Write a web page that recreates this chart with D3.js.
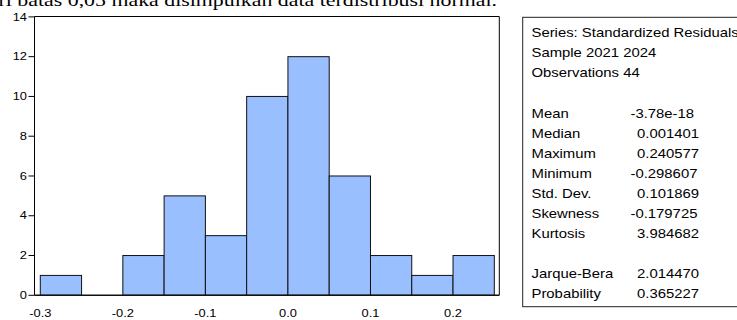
<!DOCTYPE html>
<html>
<head>
<meta charset="utf-8">
<script src="https://cdn.jsdelivr.net/npm/d3@7"></script>
<style>
  html, body { margin: 0; padding: 0; background: #fff; }
  svg { display: block; }
</style>
</head>
<body>
<svg id="chart" width="737" height="320"></svg>
<script>
// ---- data ----
const binStarts = [-0.30, -0.25, -0.20, -0.15, -0.10, -0.05, 0.00, 0.05, 0.10, 0.15, 0.20];
const binWidth = 0.05;
const counts = [1, 0, 2, 5, 3, 10, 12, 6, 2, 1, 2];
const yTicks = [0, 2, 4, 6, 8, 10, 12, 14];
const xTicks = [-0.3, -0.2, -0.1, 0.0, 0.1, 0.2];
const xTickLabels = ["-0.3", "-0.2", "-0.1", "0.0", "0.1", "0.2"];
const headerLines = ["Series: Standardized Residuals", "Sample 2021 2024", "Observations 44"];
const statLabels = ["Mean", "Median", "Maximum", "Minimum", "Std. Dev.", "Skewness", "Kurtosis"];
const statValues = ["-3.78e-18", "0.001401", "0.240577", "-0.298607", "0.101869", "-0.179725", "3.984682"];
const testLabels = ["Jarque-Bera", "Probability"];
const testValues = ["2.014470", "0.365227"];
const captionText = "dari batas 0,05 maka disimpulkan data terdistribusi normal.";

// ---- layout ----
const SX = 1.25;
const svg = d3.select("#chart");
const axisLeft = 34.5, frameRight = 499.3, frameTop = 16.5;
const x = d3.scaleLinear().domain([-0.3, 0.25]).range([40.3, 494.3]);
const y = d3.scaleLinear().domain([0, 14]).range([295.3, 16.9]);

function sText(g, px, py, str, opts) {
  return g.append("text")
    .attr("transform", `translate(${px},${py}) scale(${SX},1)`)
    .attr("font-family", opts.family || "'Liberation Sans', Arial, sans-serif")
    .attr("font-size", opts.size)
    .attr("text-anchor", opts.anchor || "start")
    .attr("fill", opts.fill || "#000")
    .text(str);
}

// caption (partially clipped at top, as in the reference)
sText(svg, 497, 5.5, captionText, {family: "'Liberation Serif', 'Times New Roman', serif", size: 17.5, anchor: "end"});

// bars
svg.append("g").selectAll("rect")
  .data(binStarts.map((s, i) => ({s, c: counts[i]})).filter(d => d.c > 0))
  .join("rect")
  .attr("x", d => x(d.s))
  .attr("width", d => x(d.s + binWidth) - x(d.s))
  .attr("y", d => y(d.c))
  .attr("height", d => y(0) - y(d.c))
  .attr("fill", "#99bfff")
  .attr("stroke", "#111")
  .attr("stroke-width", 1);

// frame
svg.append("path")
  .attr("d", `M${axisLeft},${y(0)} V${frameTop} H${frameRight} V${y(0)}`)
  .attr("fill", "none").attr("stroke", "#000").attr("stroke-width", 1);
svg.append("line")
  .attr("x1", axisLeft).attr("x2", frameRight)
  .attr("y1", y(0)).attr("y2", y(0))
  .attr("stroke", "#111").attr("stroke-width", 1.6);

// y axis ticks & labels
const yg = svg.append("g");
yTicks.forEach(t => {
  yg.append("line").attr("x1", 28.5).attr("x2", axisLeft)
    .attr("y1", y(t)).attr("y2", y(t)).attr("stroke", "#000").attr("stroke-width", 1);
  sText(yg, 27, y(t) + 3.7, String(t), {size: 10.3, anchor: "end"});
});

// x labels
const xg = svg.append("g");
xTicks.forEach((t, i) => {
  sText(xg, x(t), 317, xTickLabels[i], {size: 10.3, anchor: "middle"});
});

// stats box
const box = svg.append("g");
box.append("rect").attr("x", 522.7).attr("y", 17.3).attr("width", 260).attr("height", 289.4)
  .attr("fill", "#fff").attr("stroke", "#222").attr("stroke-width", 1);
const tx = 531.5, vx = 637, vxNeg = 630.5, fs = 11.9;
headerLines.forEach((s, i) => sText(box, tx, 32.5 + 20 * i + 4.2, s, {size: fs}));
statLabels.forEach((s, i) => {
  const yy = 113.5 + 20 * i + 4.2;
  sText(box, tx, yy, s, {size: fs});
  const v = statValues[i];
  sText(box, v.startsWith("-") ? vxNeg : vx, yy, v, {size: fs});
});
testLabels.forEach((s, i) => {
  const yy = 273.5 + 20 * i + 4.2;
  sText(box, tx, yy, s, {size: fs});
  const v = testValues[i];
  sText(box, v.startsWith("-") ? vxNeg : vx, yy, v, {size: fs});
});
</script>
</body>
</html>
